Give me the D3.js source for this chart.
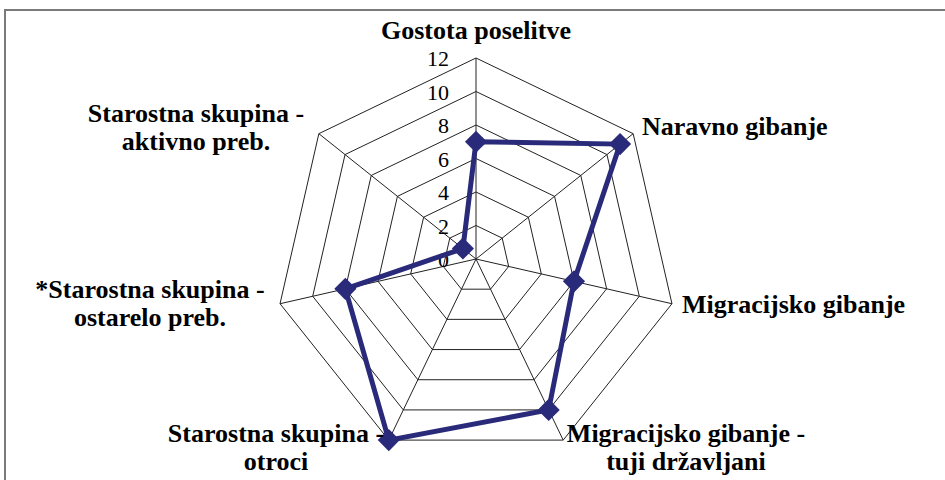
<!DOCTYPE html>
<html>
<head>
<meta charset="utf-8">
<title>Radar</title>
<script src="https://d3js.org/d3.v7.min.js"></script>
<style>
    body { margin: 0; padding: 0; background: #fff; }
    svg { display: block; }
    .lbl { font-family: "Liberation Serif", "Times New Roman", serif; font-weight: bold; font-size: 26px; fill: #000; }
    .tick { font-family: "Liberation Serif", "Times New Roman", serif; font-size: 22px; fill: #000; }
</style>
</head>
<body>
<script>
// data
var categories = [
    ["Gostota poselitve"],
    ["Naravno gibanje"],
    ["Migracijsko gibanje"],
    ["Migracijsko gibanje -", "tuji državljani"],
    ["Starostna skupina -", "otroci"],
    ["*Starostna skupina -", "ostarelo preb."],
    ["Starostna skupina -", "aktivno preb."]
];
var values = [7, 11, 6, 10, 12, 8, 1];
var tickValues = [0, 2, 4, 6, 8, 10, 12];

var w = 945, h = 480;
var cx = 476, cy = 259;

// label placement: [x, y of first baseline, anchor]
var labelPos = [
    [476, 39, "middle"],
    [642, 135, "start"],
    [682, 313, "start"],
    [686, 442, "middle"],
    [276, 442, "middle"],
    [150, 298, "middle"],
    [196, 122, "middle"]
];

var svg = d3.select("body").append("svg")
    .attr("width", w)
    .attr("height", h);

// frame
svg.append("path")
    .attr("d", "M5,480 L5,10 L945,10")
    .attr("fill", "none")
    .attr("stroke", "#7a7a7a")
    .attr("stroke-width", 2);

var r = d3.scaleLinear().domain([0, 12]).range([0, 201]);
var angle = d3.scaleLinear().domain([0, categories.length]).range([0, 2 * Math.PI]);

function pt(i, v) {
    var a = angle(i);
    return [cx + r(v) * Math.sin(a), cy - r(v) * Math.cos(a)];
}

var g = svg.append("g");

// grid rings
tickValues.filter(function(d) { return d > 0; }).forEach(function(t) {
    g.append("path")
        .attr("d", d3.line()(categories.map(function(c, i) { return pt(i, t); })) + "Z")
        .attr("fill", "none")
        .attr("stroke", "#222")
        .attr("stroke-width", 1);
});

// spokes
categories.forEach(function(c, i) {
    var p = pt(i, 12);
    g.append("line")
        .attr("x1", cx).attr("y1", cy)
        .attr("x2", p[0]).attr("y2", p[1])
        .attr("stroke", "#222")
        .attr("stroke-width", 1);
});

// tick labels
g.selectAll(".tick")
    .data(tickValues)
    .enter().append("text")
    .attr("class", "tick")
    .attr("x", cx - 27)
    .attr("y", function(d) { return cy - r(d) + 3; })
    .attr("text-anchor", "end")
    .attr("dominant-baseline", "middle")
    .text(function(d) { return d; });

// series
var pts = values.map(function(v, i) { return pt(i, v); });
g.append("path")
    .attr("d", d3.line()(pts) + "Z")
    .attr("fill", "none")
    .attr("stroke", "#2a2a7a")
    .attr("stroke-width", 5)
    .attr("stroke-linejoin", "miter");

g.selectAll(".marker")
    .data(pts)
    .enter().append("path")
    .attr("class", "marker")
    .attr("d", d3.symbol().type(d3.symbolSquare).size(245))
    .attr("transform", function(d) { return "translate(" + d[0] + "," + d[1] + ") rotate(45)"; })
    .attr("fill", "#2a2a7a");

// category labels
categories.forEach(function(lines, i) {
    var lp = labelPos[i];
    var t = svg.append("text")
        .attr("class", "lbl")
        .attr("text-anchor", lp[2]);
    lines.forEach(function(s, k) {
        t.append("tspan")
            .attr("x", lp[0])
            .attr("y", lp[1] + k * 28)
            .text(s);
    });
});
</script>
</body>
</html>
